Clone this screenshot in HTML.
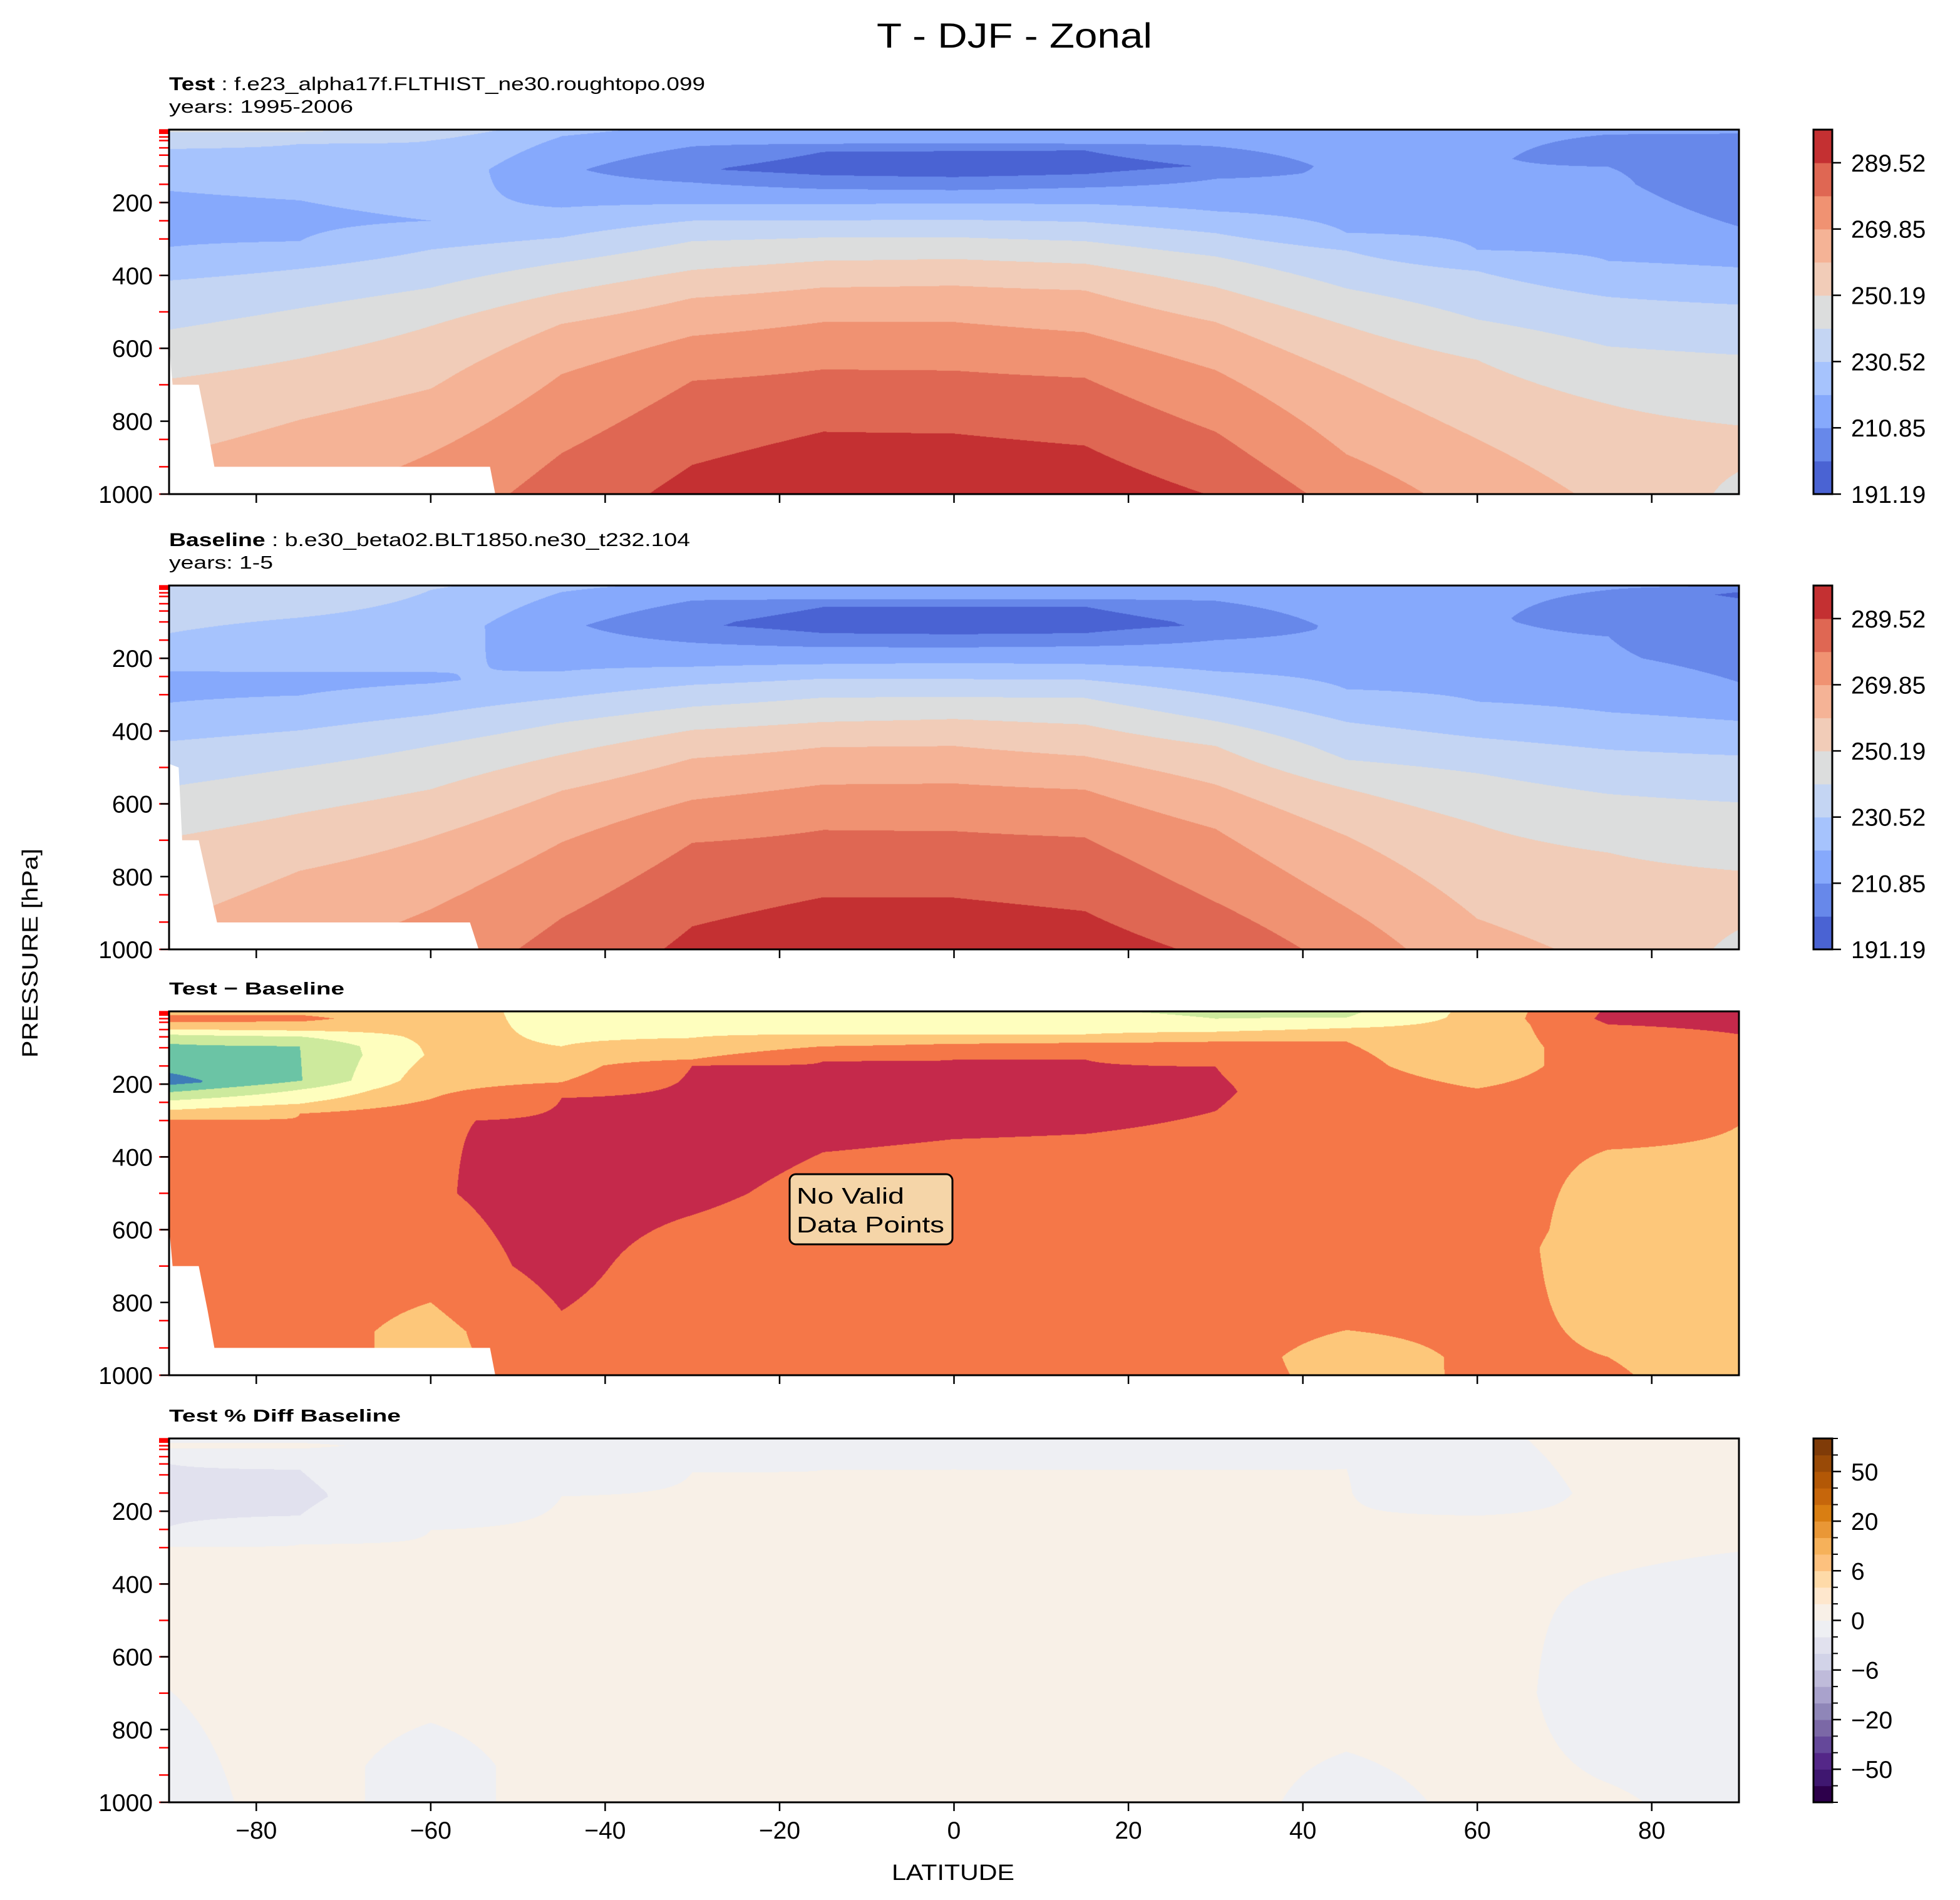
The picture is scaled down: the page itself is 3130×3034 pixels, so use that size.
<!DOCTYPE html>
<html>
<head>
<meta charset="utf-8">
<style>
  html,body{margin:0;padding:0;background:#fff;}
  #root{position:relative;width:3130px;height:3034px;overflow:hidden;background:#fff;}
  canvas{position:absolute;left:270px;}
  svg{position:absolute;left:0;top:0;}
  text{font-family:"Liberation Sans","DejaVu Sans",sans-serif;}
</style>
</head>
<body>
<div id="root">
  <canvas id="c0" width="2507" height="582" style="top:207px"></canvas>
  <canvas id="c1" width="2507" height="581" style="top:935px"></canvas>
  <canvas id="c2" width="2507" height="581" style="top:1615px"></canvas>
  <canvas id="c3" width="2507" height="581" style="top:2297px"></canvas>
  <svg id="svg" width="3130" height="3034">
    <text x="1620" y="76" font-size="56" text-anchor="middle" textLength="440" lengthAdjust="spacingAndGlyphs">T - DJF - Zonal</text>

    <text x="270" y="144" font-size="30" textLength="856" lengthAdjust="spacingAndGlyphs"><tspan font-weight="bold">Test</tspan><tspan> : f.e23_alpha17f.FLTHIST_ne30.roughtopo.099</tspan></text>
    <text x="270" y="180" font-size="29" textLength="294" lengthAdjust="spacingAndGlyphs">years: 1995-2006</text>

    <text x="270" y="872" font-size="30" textLength="832" lengthAdjust="spacingAndGlyphs"><tspan font-weight="bold">Baseline</tspan><tspan> : b.e30_beta02.BLT1850.ne30_t232.104</tspan></text>
    <text x="270" y="908" font-size="29" textLength="166" lengthAdjust="spacingAndGlyphs">years: 1-5</text>

    <text x="270" y="1588" font-size="28" font-weight="bold" textLength="280" lengthAdjust="spacingAndGlyphs">Test − Baseline</text>
    <text x="270" y="2270" font-size="28" font-weight="bold" textLength="370" lengthAdjust="spacingAndGlyphs">Test % Diff Baseline</text>

    <text x="0" y="0" font-size="35" text-anchor="middle" transform="translate(60,1522) rotate(-90)" textLength="334" lengthAdjust="spacingAndGlyphs">PRESSURE [hPa]</text>
    <text x="1522" y="3002" font-size="35" text-anchor="middle" textLength="196" lengthAdjust="spacingAndGlyphs">LATITUDE</text>
  </svg>
</div>
<script>
// ---------------- DATA ----------------
const lats = [-90,-75,-60,-45,-30,-15,0,15,30,45,60,75,90];
const tempLevels = [191.19,201.02,210.85,220.69,230.52,240.35,250.19,260.02,269.85,279.69,289.52,299.35];
const tempColors = ['#4a63d3','#6788ea','#86a9fc','#a6c3fd','#c4d5f3','#dcdddd','#f1ccb8','#f5b396','#f09272','#df6753','#c43032'];
const tempTickLabels = ['191.19','210.85','230.52','250.19','269.85','289.52'];
const tempTickIdx = [0,2,4,6,8,10];
// Test profiles: [pressure hPa, value in contour-level units (0=191.19K, 1 level = 9.8336K)]
const testProfiles = [
 [[0,5.3],[7,5],[53,4],[168,3],[243,2.6],[322,3],[414,4],[549,5],[684,6],[1000,7.5]],
 [[0,5.2],[39,4],[194,3],[250,2.8],[306,3],[382,4],[490,5],[628,6],[796,7],[1000,7.9]],
 [[0,4.8],[30,4],[250,3.0],[329,4],[434,5],[539,6],[711,7],[888,8],[1000,8.4]],
 [[0,3.3],[18,3],[110,2.2],[214,3],[296,4],[365,5],[447,6],[533,7],[671,8],[888,9],[1000,9.4]],
 [[0,2.7],[46,2],[110,1.1],[145,2],[204,3],[250,4],[306,5],[385,6],[462,7],[566,8],[689,9],[920,10],[1000,10.3]],
 [[0,2.6],[39,2],[61,1],[105,0.5],[125,1],[163,2],[204,3],[249,4],[296,5],[360,6],[433,7],[528,8],[658,9],[829,10],[1000,10.8]],
 [[0,2.6],[38,2],[58,1],[110,0.4],[130,1],[166,2],[203,3],[247,4],[295,5],[355,6],[428,7],[528,8],[661,9],[834,10],[1000,10.8]],
 [[0,2.6],[39,2],[57,1],[100,0.5],[122,1],[159,2],[204,3],[253,4],[306,5],[368,6],[441,7],[556,8],[681,9],[867,10],[1000,10.6]],
 [[0,2.7],[46,2],[100,1.1],[135,2],[224,3],[284,4],[348,5],[432,6],[528,7],[660,8],[829,9],[1000,9.95]],
 [[0,2.8],[120,2.2],[283,3],[332,4],[436,5],[538,6],[678,7],[891,8],[1000,8.6]],
 [[0,2.3],[100,2.2],[330,3],[388,4],[521,5],[632,6],[849,7],[1000,7.6]],
 [[0,2.2],[13,2],[80,1.4],[102,2],[360,3],[459,4],[595,5],[753,6],[1000,6.8]],
 [[0,2.1],[10,2],[150,1.3],[266,2],[378,3],[480,4],[618,5],[812,6],[880,6.3],[938,6],[1000,5.8]]
];
const baseProfiles = [
 [[0,4.6],[131,4],[236,3],[270,2.7],[322,3],[428,4],[553,5],[692,6],[1000,7.3]],
 [[0,4.8],[88,4],[238,3],[270,2.8],[302,3],[398,4],[500,5],[626,6],[784,7],[1000,7.9]],
 [[0,4.2],[12,4],[238,3],[260,2.9],[269,3],[355,4],[441,5],[560,6],[692,7],[890,8],[1000,8.4]],
 [[0,3.2],[18,3],[110,2.2],[236,3],[309,4],[377,5],[465,6],[564,7],[706,8],[914,9],[1000,9.3]],
 [[0,2.8],[41,2],[110,1.1],[157,2],[223,3],[273,4],[333,5],[397,6],[475,7],[589,8],[707,9],[937,10],[1000,10.2]],
 [[0,2.6],[38,2],[59,1],[100,0.5],[131,1],[169,2],[216,3],[256,4],[308,5],[375,6],[444,7],[547,8],[672,9],[857,10],[1000,10.7]],
 [[0,2.6],[38,2],[58,1],[110,0.4],[134,1],[170,2],[213,3],[257,4],[306,5],[367,6],[441,7],[544,8],[675,9],[858,10],[1000,10.7]],
 [[0,2.6],[38,2],[58,1],[100,0.5],[131,1],[167,2],[216,3],[259,4],[309,5],[382,6],[469,7],[561,8],[692,9],[895,10],[1000,10.5]],
 [[0,2.7],[42,2],[110,1.1],[150,2],[236,3],[302,4],[373,5],[441,6],[547,7],[669,8],[870,9],[1000,9.8]],
 [[0,2.8],[120,2.2],[285,3],[375,4],[479,5],[558,6],[688,7],[885,8],[1000,8.6]],
 [[0,2.3],[100,2.2],[319,3],[418,4],[516,5],[656,6],[916,7],[1000,7.3]],
 [[0,2.2],[12,2],[90,1.4],[140,2],[200,2.1],[348,3],[451,4],[573,5],[734,6],[1000,6.8]],
 [[0,2.05],[18,1],[25,0.8],[35,1],[266,2],[372,3],[467,4],[596,5],[784,6],[880,6.3],[946,6],[1000,5.8]]
];
const diffLevels = [-5,-4,-3,-2,-1,0,1,2];
const diffColors = ['#3e7cb8','#6bc4a5','#cdea9d','#fefebe','#fdc77a','#f57748','#c5294b'];
const diffProfiles = [
 [[0,-0.5],[10,0],[20,0.2],[30,0],[50,-1],[64,-2],[89,-3],[169,-4],[195,-4.4],[202,-4],[222,-3],[245,-2],[271,-1],[298,0],[1000,0.5]],
 [[0,-0.5],[10,0],[20,0.2],[28,0],[53,-1],[69,-2],[96,-3],[190,-3.05],[215,-2],[254,-1],[281,0],[800,0.4],[1000,0.4]],
 [[0,-0.5],[120,-0.9],[241,0],[300,0.95],[500,0.9],[700,0.5],[800,0],[880,-0.3],[1000,-0.3]],
 [[0,-1.4],[96,-1],[195,0],[238,1],[500,1.4],[700,1.3],[823,1],[1000,0.4]],
 [[0,-1.4],[73,-1],[132,0],[149,1],[300,1.4],[500,1.15],[560,1],[700,0.5],[1000,0.4]],
 [[0,-1.5],[63,-1],[96,0],[137,1],[250,1.4],[387,1],[500,0.8],[700,0.5],[1000,0.4]],
 [[0,-1.5],[63,-1],[89,0],[133,1],[250,1.3],[351,1],[500,0.6],[1000,0.4]],
 [[0,-1.9],[63,-1],[86,0],[132,1],[250,1.3],[337,1],[500,0.6],[1000,0.4]],
 [[0,-2.2],[20,-2],[56,-1],[83,0],[152,1],[220,1.1],[274,1],[500,0.5],[1000,0.4]],
 [[0,-2.2],[17,-2],[46,-1],[83,0],[200,0.5],[500,0.5],[800,0.3],[876,0],[950,-0.4],[1000,-0.3]],
 [[0,-0.7],[150,-0.6],[212,0],[600,0.4],[1000,0.1]],
 [[0,1.1],[20,1.2],[36,1],[100,0.6],[300,0.5],[380,0],[650,-0.4],[950,0],[1000,0.1]],
 [[0,1.2],[63,1],[200,0.5],[314,0],[600,-0.5],[1000,-0.4]]
];
const pctLevels = [-100,-70,-50,-40,-30,-20,-15,-10,-6,-4,-2,0,2,4,6,10,15,20,30,40,50,70,100];
const pctColors = ['#2d004b','#3f1770','#542788','#65489a','#7b68a6','#8f86b8','#a9a2cc','#bfbbda','#d2d3e8','#e1e1ee','#eeeff3',
                   '#f8f0e7','#fee7cd','#fedaa8','#fdc17e','#f6b15a','#e99736','#d97e12','#c6660b','#b35806','#994a07','#7f3b08'];
const pctTickLabels = ['−50','−20','−6','0','6','20','50'];
const pctTickIdx = [2,5,8,11,14,17,20];
const pctProfiles = [
 [[0,-0.5],[12,0],[20,0.4],[28,0],[50,-1],[70,-2],[150,-2.6],[242,-2],[298,0],[500,0.5],[690,0],[1000,-0.5]],
 [[0,-0.5],[12,0],[20,0.3],[28,0],[86,-2],[160,-2.3],[212,-2],[291,0],[500,0.5],[1000,0.5]],
 [[0,-0.5],[150,-1],[252,0],[500,0.5],[781,0],[900,-0.5],[1000,-0.5]],
 [[0,-0.8],[159,0],[500,0.5],[1000,0.5]],
 [[0,-0.8],[93,0],[1000,0.6]],
 [[0,-0.8],[86,0],[1000,0.6]],
 [[0,-0.8],[85,0],[1000,0.6]],
 [[0,-0.9],[86,0],[1000,0.6]],
 [[0,-1.6],[86,0],[1000,0.5]],
 [[0,-1.9],[83,0],[800,0.4],[861,0],[1000,-0.5]],
 [[0,-0.3],[150,-0.8],[212,0],[700,0.5],[1000,0.3]],
 [[0,0.5],[377,0],[700,-0.6],[947,0],[1000,0.3]],
 [[0,0.5],[311,0],[700,-0.8],[1000,-0.8]]
];
const testMaskLat = [-90,-89.6,-86.6,-85.6,-84.8,-53.2,-52.6,-90];
const testMaskP   = [590,700,700,820,925,925,1000,1000];
const baseMaskLat = [-90,-88.9,-88.5,-86.6,-84.5,-55.5,-54.5,-90];
const baseMaskP   = [490,500,700,700,926,926,1000,1000];
const xTicks = [-80,-60,-40,-20,0,20,40,60,80];
const xTickLabels = ['−80','−60','−40','−20','0','20','40','60','80'];
const yTicks = [200,400,600,800,1000];
const yTickLabels = ['200','400','600','800','1000'];
const levelTicks = [1,2,3,5,7,10,20,30,50,70,100,150,200,250,300,400,500,600,700,850,925,1000];

// ---------------- LAYOUT ----------------
const L = 270, W = 2507;
const panels = [{top:207,h:582},{top:935,h:581},{top:1615,h:581},{top:2297,h:581}];
function xScale(lat){ return L + (lat+90)/180*W; }
function yScale(p, pi){ return panels[pi].top + p/1000*panels[pi].h; }
const lvlToK = u => tempLevels[0] + u*9.8336;

function interpProfile(prof, p){
  if (p <= prof[0][0]) return prof[0][1];
  for (let i=1;i<prof.length;i++){
    if (p <= prof[i][0]){
      const a=prof[i-1], b=prof[i];
      return a[1] + (b[1]-a[1])*(p-a[0])/(b[0]-a[0]);
    }
  }
  return prof[prof.length-1][1];
}
function hexRgb(h){ return [parseInt(h.slice(1,3),16),parseInt(h.slice(3,5),16),parseInt(h.slice(5,7),16)]; }

function drawField(id, profiles, conv, levels, colors){
  const cv = document.getElementById(id);
  const ctx = cv.getContext('2d');
  const w = cv.width, h = cv.height;
  const img = ctx.createImageData(w,h);
  const rgb = colors.map(hexRgb);
  const n = lats.length;
  const colV = new Array(n);
  for (let py=0; py<h; py++){
    const p = (py+0.5)/h*1000;
    for (let i=0;i<n;i++) colV[i] = conv(interpProfile(profiles[i], p));
    for (let px=0; px<w; px++){
      const lat = -90 + (px+0.5)/w*180;
      let i = Math.floor((lat-lats[0])/(lats[1]-lats[0]));
      if (i<0) i=0; if (i>n-2) i=n-2;
      const t = (lat-lats[i])/(lats[i+1]-lats[i]);
      const v = colV[i]*(1-t) + colV[i+1]*t;
      let k = 0;
      while (k < levels.length-2 && v >= levels[k+1]) k++;
      const c = rgb[k];
      const o = (py*w+px)*4;
      img.data[o]=c[0]; img.data[o+1]=c[1]; img.data[o+2]=c[2]; img.data[o+3]=255;
    }
  }
  ctx.putImageData(img,0,0);
}
drawField('c0', testProfiles, lvlToK, tempLevels, tempColors);
drawField('c1', baseProfiles, lvlToK, tempLevels, tempColors);
drawField('c2', diffProfiles, v=>v, diffLevels, diffColors);
drawField('c3', pctProfiles, v=>v, pctLevels, pctColors);

// ---------------- SVG ----------------
const svg = document.getElementById('svg');
const NS = 'http://www.w3.org/2000/svg';
function mk(tag, attrs, txt){
  const e = document.createElementNS(NS, tag);
  for (const k in attrs) e.setAttribute(k, attrs[k]);
  if (txt !== undefined) e.textContent = txt;
  svg.appendChild(e);
  return e;
}

function drawMask(latArr, pArr, pi, name){
  let pts = latArr.map((la,i)=> xScale(la).toFixed(1)+','+yScale(pArr[i],pi).toFixed(1)).join(' ');
  const m = mk('polygon', {points:pts, fill:'#ffffff'});
  
  
}
drawMask(testMaskLat, testMaskP, 0, 'test-missing-mask');
drawMask(baseMaskLat, baseMaskP, 1, 'baseline-missing-mask');
drawMask(testMaskLat, testMaskP, 2, 'difference-missing-mask');

const panelNames = ['test','baseline','difference','percent-diff'];
panels.forEach((pn, pi)=>{
  const nm = panelNames[pi];
  levelTicks.forEach(p=>{
    const y = yScale(p, pi);
    const t = mk('line', {x1:L-16, x2:L, y1:y, y2:y, stroke:'#ff0000', 'stroke-width':2.5});
    
    
  });
  yTicks.forEach((p,i)=>{
    const y = yScale(p, pi);
    const t = mk('line', {x1:L-14, x2:L, y1:y, y2:y, stroke:'#000', 'stroke-width':2.5});
    
    
    const lb = mk('text', {x:L-26, y:y+14, 'font-size':39, 'text-anchor':'end'}, yTickLabels[i]);
    
    
  });
  const yb = pn.top + pn.h;
  xTicks.forEach((la,i)=>{
    const x = xScale(la);
    const t = mk('line', {x1:x, x2:x, y1:yb, y2:yb+14, stroke:'#000', 'stroke-width':2.5});
    
    
    if (pi===3){
      const lb = mk('text', {x:x, y:yb+58, 'font-size':39, 'text-anchor':'middle'}, xTickLabels[i]);
      
      
    }
  });
  const fr = mk('rect', {x:L, y:pn.top, width:W, height:pn.h, fill:'none', stroke:'#000', 'stroke-width':3});
  
  
});

function drawColorbar(pi, colors, tickIdx, labels, name, allMinor){
  const pn = panels[pi];
  const cx = 2896, cw = 30;
  const nb = colors.length, bh = pn.h/nb;
  colors.forEach((c,k)=>{
    const r = mk('rect', {x:cx, y:pn.top+pn.h-(k+1)*bh, width:cw, height:bh+0.6, fill:c});
    
    
  });
  if (allMinor){
    for (let k=0;k<=nb;k++){
      const y = pn.top+pn.h-k*bh;
      const t = mk('line', {x1:cx+cw, x2:cx+cw+9, y1:y, y2:y, stroke:'#000', 'stroke-width':2});
      
      
    }
  }
  tickIdx.forEach((k,i)=>{
    const y = pn.top+pn.h-k*bh;
    const t = mk('line', {x1:cx+cw, x2:cx+cw+14, y1:y, y2:y, stroke:'#000', 'stroke-width':2.5});
    
    
    const lb = mk('text', {x:cx+cw+30, y:y+14, 'font-size':39}, labels[i]);
    
    
  });
  const fr = mk('rect', {x:cx, y:pn.top, width:cw, height:pn.h, fill:'none', stroke:'#000', 'stroke-width':3});
  
  
}
drawColorbar(0, tempColors, tempTickIdx, tempTickLabels, 'test-colorbar', false);
drawColorbar(1, tempColors, tempTickIdx, tempTickLabels, 'baseline-colorbar', false);
drawColorbar(3, pctColors, pctTickIdx, pctTickLabels, 'percent-diff-colorbar', true);

const bx = mk('rect', {x:1261, y:1875, width:260, height:112, rx:10, ry:10, fill:'#f5d5a8', stroke:'#000', 'stroke-width':3});


const t1 = mk('text', {x:1272, y:1922, 'font-size':36, textLength:172, lengthAdjust:'spacingAndGlyphs'}, 'No Valid');


const t2 = mk('text', {x:1272, y:1968, 'font-size':36, textLength:236, lengthAdjust:'spacingAndGlyphs'}, 'Data Points');


</script>
</body>
</html>
